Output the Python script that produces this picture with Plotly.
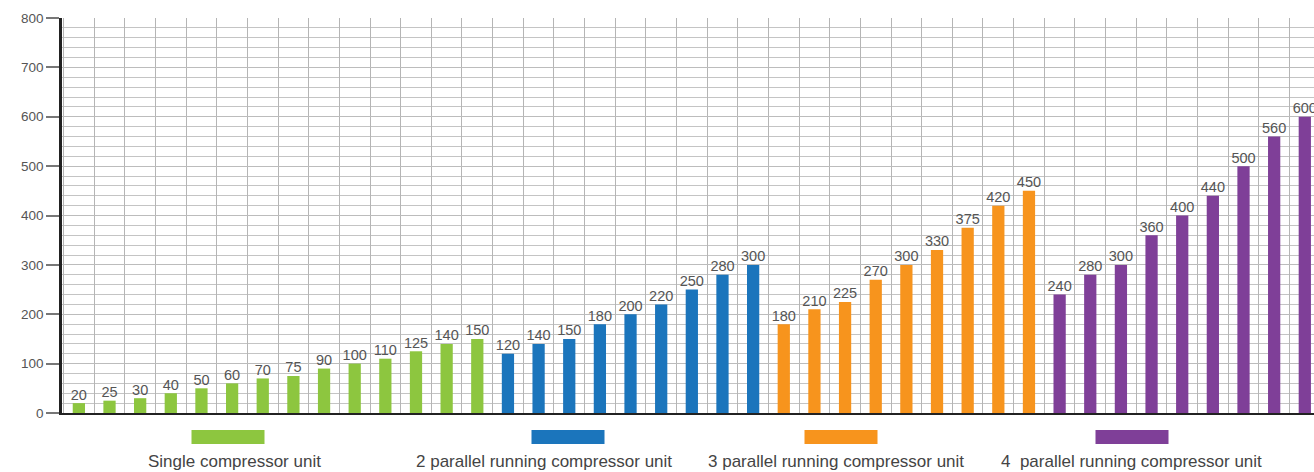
import plotly.graph_objects as go

groups = ["Single compressor unit", "2 parallel running compressor unit",
          "3 parallel running compressor unit", "4  parallel running compressor unit"]
colors = ["#8dc63f", "#1b75bc", "#f7941d", "#7f3f98"]
single = [20, 25, 30, 40, 50, 60, 70, 75, 90, 100, 110, 125, 140, 150]
two_par = [120, 140, 150, 180, 200, 220, 250, 280, 300]
three_par = [180, 210, 225, 270, 300, 330, 375, 420, 450]
four_par = [240, 280, 300, 360, 400, 440, 500, 560, 600]

series = [single, two_par, three_par, four_par]

fig = go.Figure()
start = 0
for name, vals, col in zip(groups, series, colors):
    xs = list(range(start, start + len(vals)))
    start += len(vals)
    fig.add_trace(go.Bar(
        x=xs, y=vals, name=name, marker=dict(color=col, line=dict(width=0)),
        width=0.4, showlegend=False, hoverinfo="x+y",
    ))
    fig.add_trace(go.Scatter(
        x=xs, y=vals, mode="text", text=[str(v) for v in vals],
        textposition="top center",
        textfont=dict(family="Liberation Sans, Arial", size=14.5, color="#555555"),
        cliponaxis=False, showlegend=False, hoverinfo="skip",
    ))
n = start

fig.update_layout(
    width=1314, height=472,
    margin=dict(l=62, r=0, t=18, b=59),
    plot_bgcolor="white", paper_bgcolor="white",
    barmode="overlay",
    font=dict(family="Liberation Sans, Arial", color="#555555"),
)
fig.update_xaxes(
    range=[-0.55, n - 0.7], tickmode="array",
    tickvals=[i - 0.5 for i in range(n + 1)], showticklabels=False,
    showgrid=True, gridcolor="#b5b5b5", gridwidth=1,
    ticks="", zeroline=False,
    showline=True, linecolor="#222222", linewidth=2,
)
fig.update_yaxes(
    range=[0, 800], tickmode="linear", tick0=0, dtick=100,
    tickfont=dict(size=13.5, color="#555555"),
    ticks="outside", ticklen=13, tickcolor="#777777", tickwidth=1.5,
    showgrid=True, gridcolor="#bcbcbc", gridwidth=1.2,
    minor=dict(tickmode="linear", dtick=20, showgrid=True, gridcolor="#c4c4c4", gridwidth=1.2, ticks=""),
    zeroline=False, showline=True, linecolor="#222222", linewidth=2.5,
)

# legend-like boxes and labels below the chart
box_centers = [228, 568, 841, 1132]
text_centers = [234, 544, 836, 1131]
W = 1314.0
for g, col, bc, tc in zip(groups, colors, box_centers, text_centers):
    fig.add_shape(type="rect", xref="paper", yref="paper",
                  x0=(bc - 62 - 36.5) / (W - 62), x1=(bc - 62 + 36.5) / (W - 62),
                  y0=-(444 - 413) / 395.0, y1=-(430 - 413) / 395.0,
                  fillcolor=col, line=dict(width=0))
    fig.add_annotation(xref="paper", yref="paper",
                       x=(tc - 62) / (W - 62), y=-(461 - 413) / 395.0,
                       text=g, showarrow=False, xanchor="center", yanchor="middle",
                       font=dict(family="Liberation Sans, Arial", size=17, color="#444444"))

fig.write_html("out.html", config={"displayModeBar": False},
               post_script="document.body.style.margin='0';document.body.style.overflow='hidden';")
